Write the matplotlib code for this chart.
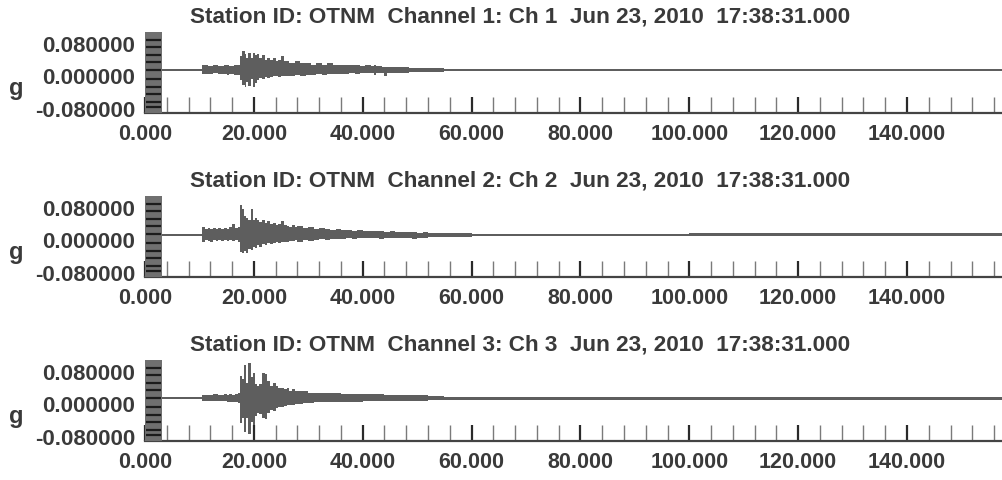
import numpy as np
import matplotlib
matplotlib.use("Agg")
import matplotlib.pyplot as plt
from matplotlib.ticker import MultipleLocator, FormatStrFormatter
from matplotlib.patches import Rectangle
import matplotlib.transforms as mtransforms

plt.rcParams['font.family'] = ['Liberation Sans', 'DejaVu Sans']
plt.rcParams['font.weight'] = 'bold'

# ---------------- data (envelope of each trace, milli-g) ----------------
titles = [
    "Station ID: OTNM  Channel 1: Ch 1  Jun 23, 2010  17:38:31.000",
    "Station ID: OTNM  Channel 2: Ch 2  Jun 23, 2010  17:38:31.000",
    "Station ID: OTNM  Channel 3: Ch 3  Jun 23, 2010  17:38:31.000",
]
y_ticks = [0.08, 0.0, -0.08]
y_tick_labels = ["0.080000", "0.000000", "-0.080000"]
y_unit = "g"
offsets_mg = [12, 10, 12]

ch1_t = [0, 10.5, 11.5, 12.5, 13.5, 14.5, 15.0, 15.5, 16.3, 17.0, 17.5, 17.9, 18.3, 18.6, 19.0, 19.4,
         19.8, 20.2, 20.6, 21.0, 21.5, 22.0, 22.5, 23.0, 23.5, 24.0, 24.5, 25.0, 25.5, 26.5, 27.5,
         28.5, 29.5, 30.5, 31.5, 32.5, 33.5, 34.5, 35.5, 36.5, 37.5, 38.5, 39.5, 40.5, 41.5, 42.0,
         42.5, 43.5, 44.0, 44.5, 45.5, 47.0, 48.5, 50.0, 55.0, 81.0, 158]
ch1_up = [2, 12, 11, 12, 11, 12, 14, 11, 12, 14, 34, 48, 41, 29, 43, 31, 43, 38, 41, 29, 38,
          26, 31, 24, 29, 22, 24, 34, 22, 19, 22, 17, 19, 14, 17, 14, 17, 12, 14, 12, 14,
          12, 10, 12, 10, 14, 10, 8, 7, 8, 7, 7, 6, 5, 3, 4, 4]
ch1_lo = [-2, -8, -8, -7, -8, -10, -12, -8, -11, -12, -24, -36, -41, -29, -38, -22, -41, -31, -24, -19, -22,
          -17, -19, -17, -14, -14, -17, -14, -14, -14, -12, -14, -12, -12, -10, -12, -10, -10, -10, -10, -7,
          -10, -7, -7, -7, -12, -7, -7, -14, -7, -6, -6, -5, -5, -3, -3, -3]

ch2_t = [0, 10.5, 11.0, 11.5, 12.0, 12.5, 13.0, 13.5, 14.0, 14.5, 15.0, 15.5, 16.0, 16.5, 17.0, 17.4,
         17.8, 18.2, 18.6, 19.0, 19.4, 19.8, 20.2, 20.6, 21.0, 21.5, 22.0, 22.5, 23.0, 23.5, 24.0,
         24.5, 25.0, 25.5, 26.0, 26.5, 27.0, 27.5, 28.0, 29.0, 30.0, 31.0, 32.0, 33.0, 34.0, 35.0,
         36.0, 37.0, 38.0, 39.0, 40.0, 41.0, 42.0, 43.0, 44.0, 45.0, 46.0, 47.0, 48.0, 49.0, 50.0,
         51.0, 52.0, 60.0, 100.0, 158]
ch2_up = [2, 19, 14, 17, 14, 17, 14, 17, 14, 17, 14, 19, 26, 17, 19, 74, 65, 48, 43, 38,
          65, 36, 41, 36, 31, 38, 29, 34, 26, 29, 24, 26, 34, 24, 22, 19, 24, 19, 22, 17,
          19, 14, 17, 14, 12, 14, 12, 12, 11, 12, 10, 11, 10, 10, 8, 10, 7, 8, 7, 7,
          6, 7, 5, 3, 4, 4]
ch2_lo = [-2, -17, -12, -14, -17, -12, -14, -12, -14, -12, -14, -12, -14, -12, -17, -41, -43, -38, -43, -34,
          -36, -29, -31, -24, -29, -22, -24, -19, -22, -19, -17, -19, -17, -17, -17, -14, -14, -12, -17, -12,
          -14, -12, -10, -12, -10, -10, -10, -7, -10, -8, -7, -8, -7, -10, -7, -7, -7, -6, -6, -10,
          -6, -8, -5, -3, -3, -3]

ch3_t = [0, 10.5, 11.5, 12.5, 13.5, 14.5, 15.0, 15.5, 16.0, 16.5, 17.0, 17.4, 17.8, 18.2, 18.6, 19.0,
         19.4, 19.8, 20.2, 20.6, 21.0, 21.5, 22.0, 22.5, 23.0, 23.5, 24.0, 24.5, 25.0, 25.5, 26.0,
         26.5, 27.0, 27.5, 28.0, 29.0, 30.0, 31.0, 32.0, 33.0, 34.0, 35.0, 36.0, 38.0, 40.0, 42.0,
         44.0, 46.0, 48.0, 50.0, 52.0, 55.0, 158]
ch3_up = [2, 7, 7, 10, 7, 10, 8, 10, 8, 10, 12, 55, 48, 82, 38, 86, 53, 62, 34, 29,
          34, 62, 60, 43, 31, 38, 29, 24, 26, 22, 24, 19, 22, 17, 19, 17, 14, 14, 12, 14,
          12, 12, 11, 10, 11, 10, 8, 7, 7, 7, 6, 4, 4]
ch3_lo = [-2, -6, -7, -7, -7, -7, -8, -10, -8, -10, -12, -62, -48, -84, -48, -89, -58, -65, -43, -36,
          -38, -48, -50, -36, -29, -31, -24, -22, -22, -19, -17, -17, -17, -14, -14, -12, -12, -10, -10, -10,
          -10, -8, -10, -8, -7, -7, -7, -7, -6, -6, -5, -4, -4]

channels = [(ch1_t, ch1_up, ch1_lo), (ch2_t, ch2_up, ch2_lo), (ch3_t, ch3_up, ch3_lo)]

# ---------------- layout ----------------
W, H = 1003, 481
fig = plt.figure(figsize=(W / 100, H / 100), dpi=100)
fig.patch.set_facecolor('white')

text_col = '#3a3a3a'
trace_col = '#5e5e5e'
panel_tops = [33, 197, 361]      # px
panel_h = 81                     # px
ax_left = 145
xmax = (W - ax_left) / 5.443
stripe_fracs = [0.905, 0.811, 0.716, 0.626, 0.531, 0.42, 0.321, 0.235, 0.136, 0.074]

for i, (t, up, lo) in enumerate(channels):
    top = panel_tops[i]
    ax = fig.add_axes([ax_left / W, 1 - (top + panel_h) / H, (W - ax_left) / W, panel_h / H])
    ax.set_xlim(0, xmax)
    ax.set_ylim(-0.093, 0.106)
    t = np.asarray(t, float)
    off = offsets_mg[i] / 1000.0
    u = np.asarray(up, float) / 1000.0 + off
    l = np.asarray(lo, float) / 1000.0 + off
    ax.fill_between(t, l, u, step='post', color=trace_col, linewidth=0, zorder=2)

    for s in ['top', 'right', 'left']:
        ax.spines[s].set_visible(False)
    ax.spines['bottom'].set_color('#444444')
    ax.spines['bottom'].set_linewidth(1.6)

    ax.xaxis.set_major_locator(MultipleLocator(20))
    ax.xaxis.set_minor_locator(MultipleLocator(4))
    ax.xaxis.set_major_formatter(FormatStrFormatter('%.3f'))
    ax.tick_params(axis='x', which='major', direction='in', length=11.5, width=1.6,
                   color='#2a2a2a', pad=7, labelsize=15.5, labelcolor=text_col)
    ax.tick_params(axis='x', which='minor', direction='in', length=11.5, width=1.0,
                   color='#7a7a7a')
    for lab in ax.get_xticklabels():
        lab.set_fontweight('bold')

    ax.set_yticks(y_ticks)
    ax.set_yticklabels(y_tick_labels, fontsize=16, fontweight='bold', color=text_col)
    ax.tick_params(axis='y', which='both', length=0, pad=7)

    # grey amplitude bar with black stripes
    trans = mtransforms.blended_transform_factory(ax.transData, ax.transAxes)
    ax.add_patch(Rectangle((0, 0), 3.1, 1.0, transform=trans, facecolor='#707070',
                           edgecolor='none', zorder=3, clip_on=False))
    for fy in stripe_fracs:
        ax.plot([0.1, 2.9], [fy, fy], transform=trans, color='#1c1c1c', lw=1.6,
                zorder=4, clip_on=False, solid_capstyle='butt')

    fig.text(520 / W, 1 - (top - 16) / H, titles[i], ha='center', va='center',
             fontsize=16.2, fontweight='bold', color=text_col)
    fig.text(16 / W, 1 - (top + 55) / H, y_unit, ha='center', va='center',
             fontsize=17, fontweight='bold', color=text_col)

fig.savefig('out.png', dpi=100, facecolor='white')
